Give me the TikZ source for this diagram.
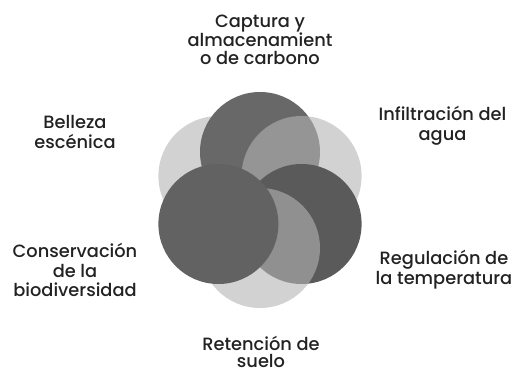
\documentclass[tikz,border=0pt]{standalone}
\usepackage{fontspec}
\setmainfont{Poppins}[UprightFont=* Medium]
\definecolor{darkA}{HTML}{686868}
\definecolor{darkB}{HTML}{5A5A5A}
\definecolor{darkC}{HTML}{626262}
\definecolor{lightA}{HTML}{B4B4B4}
\definecolor{txt}{HTML}{222222}
\begin{document}
\begin{tikzpicture}[x=1pt,y=-1pt,
  lbl/.style={align=center,text=txt,inner sep=0pt,font=\fontsize{17.8}{19.8}\selectfont},
  tightlbl/.style={lbl,font=\fontsize{17.8}{17.8}\selectfont},
  darkdisc/.style={fill=#1},
  lightdisc/.style={fill=lightA,fill opacity=0.6}]
\useasboundingbox (0,0) rectangle (514,374);
% ring centre (260,200), ring radius 48, disc radius 60
\fill[lightdisc] (218.4,176) circle (60);
\fill[darkdisc=darkA] (260,152) circle (60);
\fill[lightdisc] (301.6,176) circle (60);
\fill[darkdisc=darkB] (301.6,224) circle (60);
\fill[lightdisc] (260,248) circle (60);
\fill[darkdisc=darkC] (218.4,224) circle (60);
\node[tightlbl] (cap) at (260,40) {Captura y\\almacenamient\\o de carbono};
\node[lbl] (inf) at (442.5,126) {Infiltración del\\agua};
\node[lbl] (reg) at (444,270) {Regulación de\\la temperatura};
\node[tightlbl] (ret) at (261,352) {Retención de\\suelo};
\node[lbl] (con) at (75,270) {Conservación\\de la\\biodiversidad};
\node[lbl] (bel) at (75,132) {Belleza\\escénica};
\end{tikzpicture}
\end{document}
